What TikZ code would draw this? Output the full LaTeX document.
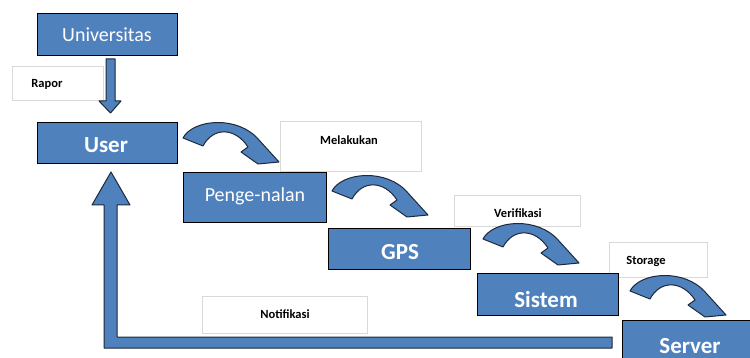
\documentclass[tikz,border=0pt]{standalone}
\usepackage{fontspec}
\setmainfont{Carlito}
\definecolor{boxblue}{RGB}{79,129,189}
\definecolor{edgedark}{RGB}{30,40,60}
\definecolor{lblgray}{RGB}{217,217,217}
\tikzset{
  mainbox/.style={draw=black, line width=1.2pt, fill=boxblue, anchor=north west, inner sep=0pt},
  lblbox/.style={draw=lblgray, line width=0.8pt, fill=white, anchor=north west, inner sep=0pt},
  maintxt/.style={text=white, font=\fontsize{20}{24}\selectfont, anchor=base, inner sep=0pt},
  boldtxt/.style={text=white, font=\fontsize{23}{27}\selectfont\bfseries, anchor=base, inner sep=0pt},
  lbltxt/.style={text=black, font=\fontsize{12.5}{14}\selectfont\bfseries, inner sep=0pt},
  blockarrow/.style={fill=boxblue, draw=edgedark, line width=1pt, line join=round},
  carrow/.pic={\path[blockarrow] (0,0) .. controls (10,-19) and (55,-23) .. (76,2) -- (96,24) -- (75,26) -- (58,14) -- (65,9) .. controls (52,-11) and (30,-11) .. (20,8) -- cycle;}
}
\begin{document}
\begin{tikzpicture}[x=1pt,y=-1pt]
\path[use as bounding box] (0,0) rectangle (750,358);
\clip (0,0) rectangle (750,358);
\fill[white] (0,0) rectangle (750,358);

% label boxes
\node[lblbox, minimum width=91pt, minimum height=34pt] (raporbox) at (12,66) {};
\node[lblbox, minimum width=141pt, minimum height=50pt] (melbox) at (280,121) {};
\node[lblbox, minimum width=126pt, minimum height=31pt] (verbox) at (454,195) {};
\node[lblbox, minimum width=98pt, minimum height=35pt] (stobox) at (609,242) {};
\node[lblbox, minimum width=165pt, minimum height=37pt] (notbox) at (202,296) {};
\node[lbltxt] (rapor) at (47,84) {Rapor};
\node[lbltxt] (mel) at (349,140) {Melakukan};
\node[lbltxt] (ver) at (518,213) {Verifikasi};
\node[lbltxt] (sto) at (646,261) {Storage};
\node[lbltxt] (notif) at (285,314) {Notifikasi};

% main boxes
\node[mainbox, minimum width=140pt, minimum height=42pt] (univ) at (37,13) {};
\node[mainbox, minimum width=140pt, minimum height=41pt] (user) at (37,122) {};
\node[mainbox, minimum width=143pt, minimum height=50pt] (peng) at (183,172) {};
\node[mainbox, minimum width=142pt, minimum height=41pt] (gps) at (328,228) {};
\node[mainbox, minimum width=141pt, minimum height=42pt] (sist) at (477,273) {};
\node[mainbox, minimum width=148pt, minimum height=50pt] (serv) at (622,320) {};
\node[maintxt] (univtxt) at (107,42) {Universitas};
\node[boldtxt] (usertxt) at (106,153) {User};
\node[maintxt] (pengtxt) at (255,202) {Penge-nalan};
\node[boldtxt] (gpstxt) at (400,260) {GPS};
\node[boldtxt] (sisttxt) at (546,307) {Sistem};
\node[boldtxt] (servtxt) at (690,353) {Server};

% down arrow Universitas -> User
\path[blockarrow] (106,59) -- (115,59) -- (115,101) -- (121,101) -- (110.5,113) -- (99,101) -- (106,101) -- cycle;

% return arrow (L shape) to User
\path[blockarrow] (111,172) -- (130,205) -- (117,205) -- (117,337) -- (612,337) -- (612,348) -- (104,348) -- (104,205) -- (92,205) -- cycle;

% curved arrows
\pic at (183,138) {carrow};
\pic at (332,191) {carrow};
\pic at (483,239) {carrow};
\pic at (630,291) {carrow};
\end{tikzpicture}
\end{document}
